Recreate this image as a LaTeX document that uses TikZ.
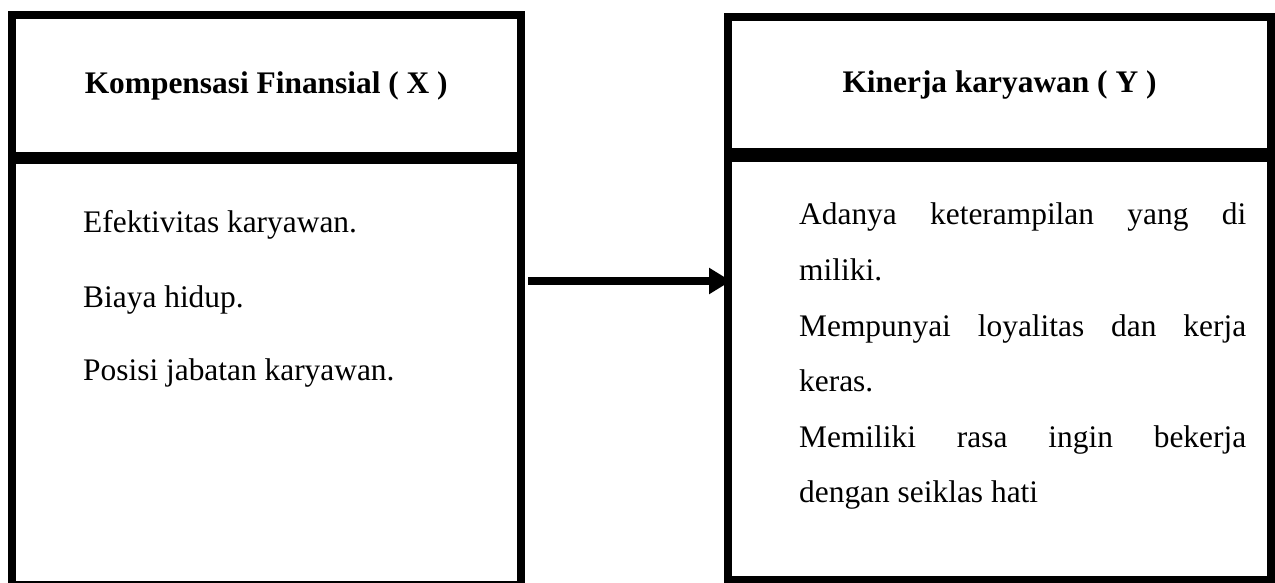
\documentclass[tikz,border=0pt]{standalone}
\usepackage{fontspec}
\setmainfont{Liberation Serif}
\usetikzlibrary{arrows.meta}
\begin{document}
\begin{tikzpicture}[x=1pt,y=-1pt,
  boxshape/.style={draw=black, line width=8pt, inner sep=0pt, outer sep=0pt, anchor=north west},
  headtxt/.style={font=\fontsize{31.4}{37}\selectfont\bfseries},
  bodytxt/.style={font=\fontsize{31.4}{37}\selectfont, anchor=base west, inner sep=0pt},
  conn/.style={line width=8pt, -{Triangle[length=22pt,width=25pt]}}]
\useasboundingbox (0,0) rectangle (1275,583);
% left box
\node[boxshape, headtxt, minimum width=508.5pt, minimum height=141pt] (lhead) at (12,15) {Kompensasi Finansial ( X )};
\node[boxshape, minimum width=508.5pt, minimum height=425pt] (lbody) at (12,160) {};
% right box
\node[boxshape, headtxt, minimum width=543pt, minimum height=135pt] (rhead) at (728,17) {Kinerja karyawan ( Y )};
\node[boxshape, minimum width=543pt, minimum height=422pt] (rbody) at (728,158) {};
% left body text
\node[bodytxt] (l1) at (83,233) {Efektivitas karyawan.};
\node[bodytxt] (l2) at (83,307) {Biaya hidup.};
\node[bodytxt] (l3) at (83,380) {Posisi jabatan karyawan.};
% right body text
\node[bodytxt] (r1) at (799,225) {\hbox to 447pt{Adanya\hfill keterampilan\hfill yang\hfill di}};
\node[bodytxt] (r2) at (799,280.5) {miliki.};
\node[bodytxt] (r3) at (799,336) {\hbox to 447pt{Mempunyai\hfill loyalitas\hfill dan\hfill kerja}};
\node[bodytxt] (r4) at (799,391.5) {keras.};
\node[bodytxt] (r5) at (799,447) {\hbox to 447pt{Memiliki\hfill rasa\hfill ingin\hfill bekerja}};
\node[bodytxt] (r6) at (799,502.5) {dengan seiklas hati};
% arrow
\coordinate (arrs) at (528,281);
\coordinate (arre) at (731,281);
\draw[conn] (arrs) -- (arre);
\end{tikzpicture}
\end{document}
